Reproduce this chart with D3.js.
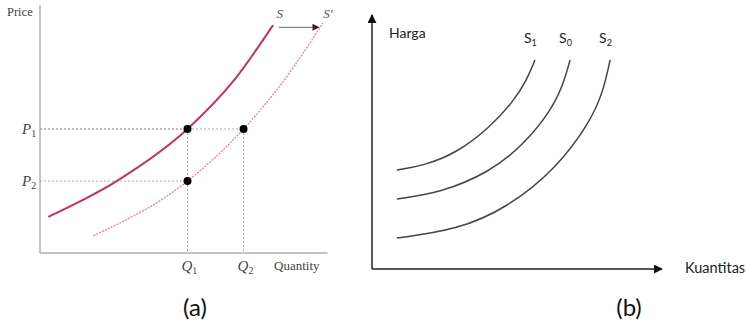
<!DOCTYPE html>
<html>
<head>
<meta charset="utf-8">
<script src="https://cdn.jsdelivr.net/npm/d3@7"></script>
<style>
  body { margin: 0; background: #fff; }
  svg { display: block; }
</style>
</head>
<body>
<div id="chart-area"></div>
<script>
// ---- panel (a) data: supply S shifts right to S'
let supplyS = [[0.28, 1.46], [2.6, 2.9], [5.0, 5.0], [6.6, 7.0], [7.9, 9.19]];
let supplyS2 = [[1.81, 0.7], [5.0, 2.9], [6.9, 5.0], [8.24, 6.91], [9.59, 9.27]];
let priceTicks = [{label: "P", sub: "1", v: 5.0}, {label: "P", sub: "2", v: 2.9}];
let qtyTicks = [{label: "Q", sub: "1", v: 5.0}, {label: "Q", sub: "2", v: 6.9}];
let dots = [[5.0, 5.0], [6.9, 5.0], [5.0, 2.9]];

// ---- panel (b) data: three supply curves
let curveS1 = [[8.6, 39.0], [17.6, 40.6], [29.3, 45.7], [40.7, 55.9], [48.6, 65.7], [53.4, 74.4], [56.2, 82.3]];
let curveS0 = [[8.6, 27.6], [23.4, 29.9], [40.7, 38.2], [52.1, 48.8], [61.4, 61.8], [65.9, 72.4], [68.3, 82.3]];
let curveS2 = [[8.6, 12.2], [29.3, 15.4], [46.6, 24.0], [63.8, 39.8], [75.2, 57.9], [79.7, 69.7], [82.1, 82.3]];
let curveNames = ["1", "0", "2"];

let svg = d3.select("#chart-area").append("svg")
	.attr("width", 746)
	.attr("height", 334);

let defs = svg.append("defs");
defs.append("marker")
	.attr("id", "arrow")
	.attr("viewBox", "0 0 10 10")
	.attr("refX", 9).attr("refY", 5)
	.attr("markerWidth", 9).attr("markerHeight", 9)
	.attr("markerUnits", "userSpaceOnUse")
	.attr("orient", "auto")
	.append("path")
	.attr("d", "M0,0 L10,5 L0,10 Z")
	.attr("fill", "#111");
defs.append("marker")
	.attr("id", "arrowSmall")
	.attr("viewBox", "0 0 10 10")
	.attr("refX", 9).attr("refY", 5)
	.attr("markerWidth", 9).attr("markerHeight", 7)
	.attr("markerUnits", "userSpaceOnUse")
	.attr("orient", "auto")
	.append("path")
	.attr("d", "M0,0 L10,5 L0,10 Z")
	.attr("fill", "#222");

// ================= panel (a) =================
let xA = d3.scaleLinear().domain([0, 10]).range([40, 335]);
let yA = d3.scaleLinear().domain([0, 10]).range([253, 5]);
let serif = "'Liberation Serif', 'DejaVu Serif', serif";

let ga = svg.append("g");

// axes (plain lines, no ticks)
ga.append("line")
	.attr("x1", xA(0)).attr("y1", yA(10))
	.attr("x2", xA(0)).attr("y2", yA(0))
	.attr("stroke", "#b0b0b0").attr("stroke-width", 1.5);
ga.append("line")
	.attr("x1", xA(0)).attr("y1", yA(0))
	.attr("x2", xA(9.75)).attr("y2", yA(0))
	.attr("stroke", "#b0b0b0").attr("stroke-width", 1.5);

// dashed guide lines
dots.forEach(d => {
	ga.append("line")
		.attr("x1", xA(0)).attr("y1", yA(d[1]))
		.attr("x2", xA(d[0])).attr("y2", yA(d[1]))
		.attr("stroke", "#999").attr("stroke-width", 0.8)
		.attr("stroke-dasharray", "2,2");
	ga.append("line")
		.attr("x1", xA(d[0])).attr("y1", yA(d[1]))
		.attr("x2", xA(d[0])).attr("y2", yA(0))
		.attr("stroke", "#999").attr("stroke-width", 0.8)
		.attr("stroke-dasharray", "2,2");
});

let lineA = d3.line()
	.x(d => xA(d[0]))
	.y(d => yA(d[1]))
	.curve(d3.curveMonotoneX);

ga.append("path")
	.attr("d", lineA(supplyS))
	.attr("fill", "none")
	.attr("stroke", "#c4345e")
	.attr("stroke-width", 2);

ga.append("path")
	.attr("d", lineA(supplyS2))
	.attr("fill", "none")
	.attr("stroke", "#f07f98")
	.attr("stroke-width", 1.3)
	.attr("stroke-dasharray", "2,1.2");

ga.selectAll(".dot").data(dots)
	.enter().append("circle")
	.attr("class", "dot")
	.attr("cx", d => xA(d[0]))
	.attr("cy", d => yA(d[1]))
	.attr("r", 4)
	.attr("fill", "#000");

// shift arrow
ga.append("line")
	.attr("x1", xA(8.1)).attr("y1", yA(9.1))
	.attr("x2", xA(9.45)).attr("y2", yA(9.1))
	.attr("stroke", "#555").attr("stroke-width", 0.9)
	.attr("marker-end", "url(#arrowSmall)");

ga.append("text")
	.attr("x", xA(8.02)).attr("y", 18)
	.attr("font-family", serif).attr("font-style", "italic")
	.attr("font-size", 13).attr("fill", "#555")
	.text("S");
ga.append("text")
	.attr("x", xA(9.6)).attr("y", 18)
	.attr("font-family", serif).attr("font-style", "italic")
	.attr("font-size", 13).attr("fill", "#555")
	.text("S′");

ga.append("text")
	.attr("x", 7).attr("y", 16)
	.attr("font-family", serif).attr("font-size", 12.5).attr("fill", "#444")
	.text("Price");
ga.append("text")
	.attr("x", 274).attr("y", 270)
	.attr("font-family", serif).attr("font-size", 13).attr("fill", "#444")
	.text("Quantity");

priceTicks.forEach(t => {
	let tx = ga.append("text")
		.attr("x", 22).attr("y", yA(t.v) + 5)
		.attr("font-family", serif).attr("font-style", "italic")
		.attr("font-size", 15).attr("fill", "#444");
	tx.append("tspan").text(t.label);
	tx.append("tspan").attr("dy", 3).attr("font-size", 10).attr("font-style", "normal").text(t.sub);
});
qtyTicks.forEach(t => {
	let tx = ga.append("text")
		.attr("x", xA(t.v) - 6).attr("y", 271)
		.attr("font-family", serif).attr("font-style", "italic")
		.attr("font-size", 15).attr("fill", "#444");
	tx.append("tspan").text(t.label);
	tx.append("tspan").attr("dy", 3).attr("font-size", 10).attr("font-style", "normal").text(t.sub);
});

// ================= panel (b) =================
let xB = d3.scaleLinear().domain([0, 100]).range([372, 662]);
let yB = d3.scaleLinear().domain([0, 100]).range([269, 15]);
let sans = "Lato, 'Open Sans', sans-serif";

let gb = svg.append("g");

gb.append("line")
	.attr("x1", xB(0)).attr("y1", yB(0))
	.attr("x2", xB(0)).attr("y2", yB(100))
	.attr("stroke", "#222").attr("stroke-width", 1.5)
	.attr("marker-end", "url(#arrow)");
gb.append("line")
	.attr("x1", xB(0)).attr("y1", yB(0))
	.attr("x2", xB(100)).attr("y2", yB(0))
	.attr("stroke", "#222").attr("stroke-width", 1.5)
	.attr("marker-end", "url(#arrow)");

// smoothed B-spline through the read points
let lineB = d3.line()
	.x(d => xB(d[0]))
	.y(d => yB(d[1]))
	.curve(d3.curveBasis);

let curvesB = [curveS1, curveS0, curveS2];
gb.selectAll(".supply").data(curvesB)
	.enter().append("path")
	.attr("class", "supply")
	.attr("d", d => lineB(d))
	.attr("fill", "none")
	.attr("stroke", "#444")
	.attr("stroke-width", 1.5);

curvesB.forEach((c, i) => {
	let top = c[c.length - 1];
	let tx = gb.append("text")
		.attr("x", xB(top[0]) - 11).attr("y", 43)
		.attr("font-family", sans).attr("font-size", 14).attr("fill", "#222");
	tx.append("tspan").text("S");
	tx.append("tspan").attr("dy", 3).attr("font-size", 9).text(curveNames[i]);
});

gb.append("text")
	.attr("x", 389).attr("y", 38)
	.attr("font-family", sans).attr("font-size", 14).attr("fill", "#222")
	.text("Harga");
gb.append("text")
	.attr("x", 685).attr("y", 273)
	.attr("font-family", sans).attr("font-size", 14.5).attr("fill", "#222")
	.text("Kuantitas");

// panel captions
svg.append("text")
	.attr("x", 195).attr("y", 316)
	.attr("text-anchor", "middle")
	.attr("font-family", sans).attr("font-size", 24).attr("fill", "#111")
	.text("(a)");
svg.append("text")
	.attr("x", 629).attr("y", 316)
	.attr("text-anchor", "middle")
	.attr("font-family", sans).attr("font-size", 24).attr("fill", "#111")
	.text("(b)");
</script>
</body>
</html>
